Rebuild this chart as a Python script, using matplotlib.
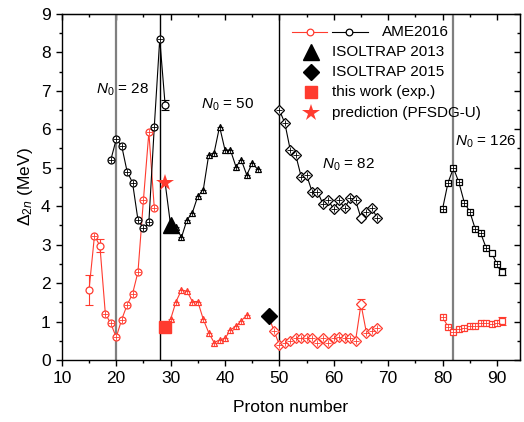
import numpy as np
import matplotlib
matplotlib.use("Agg")
import matplotlib.pyplot as plt

plt.rcParams['font.family'] = ['Liberation Sans', 'DejaVu Sans']
plt.rcParams['mathtext.fontset'] = 'custom'
plt.rcParams['mathtext.rm'] = 'Liberation Sans'
plt.rcParams['mathtext.it'] = 'Liberation Sans:italic'

ROJO = '#ff3b2f'
GRIS = '#7f7f7f'

# AME2016, serie roja (circulos, triangulos, rombos, cuadrados)
z_rc = [15, 16, 17, 18, 19, 20, 21, 22, 23, 24, 25, 26, 27]
d_rc = [1.82, 3.23, 2.97, 1.20, 0.95, 0.59, 1.05, 1.43, 1.72, 2.29, 4.16, 5.92, 3.95]
e_rc = [0.39, 0, 0.17, 0, 0, 0, 0, 0, 0, 0, 0, 0, 0]
ab_rc = [15, 17]

z_rt = [30, 31, 32, 33, 34, 35, 36, 37, 38, 39, 40, 41, 42, 43, 44]
d_rt = [1.06, 1.52, 1.82, 1.79, 1.52, 1.52, 1.06, 0.71, 0.45, 0.52, 0.56, 0.78, 0.88, 1.02, 1.17]

z_rd = [49, 50, 51, 52, 53, 54, 55, 56, 57, 58, 59, 60, 61, 62, 63, 64, 65, 66, 67, 68]
d_rd = [0.76, 0.39, 0.43, 0.50, 0.56, 0.56, 0.56, 0.58, 0.45, 0.58, 0.45, 0.56, 0.61, 0.58,
        0.58, 0.50, 1.45, 0.71, 0.76, 0.82]
e_rd = [0]*16 + [0.13, 0, 0, 0]
ab_rd = [65]

z_rs = [80, 81, 82, 83, 84, 85, 86, 87, 88, 89, 90, 91]
d_rs = [1.11, 0.87, 0.74, 0.80, 0.82, 0.89, 0.89, 0.97, 0.97, 0.94, 0.97, 1.01]
e_rs = [0]*11 + [0.10]
ab_rs = [91]

# AME2016, serie negra
z_nc = [19, 20, 21, 22, 23, 24, 25, 26, 27, 28, 29]
d_nc = [5.20, 5.74, 5.57, 4.90, 4.61, 3.64, 3.42, 3.58, 6.07, 8.35, 6.62]
e_nc = [0]*10 + [0.13]
ab_nc = [29]

z_nt = [30, 31, 32, 33, 34, 35, 36, 37, 38, 39, 40, 41, 42, 43, 44, 45, 46]
d_nt = [3.50, 3.45, 3.19, 3.64, 3.83, 4.26, 4.42, 5.33, 5.39, 6.07, 5.46, 5.46, 5.03, 5.20,
        4.81, 5.12, 4.96]

z_nd = [50, 51, 52, 53, 54, 55, 56, 57, 58, 59, 60, 61, 62, 63, 64, 65, 66, 67, 68]
d_nd = [6.50, 6.16, 5.46, 5.33, 4.77, 4.81, 4.38, 4.38, 4.06, 4.15, 3.92, 4.15, 3.95, 4.20,
        4.15, 3.69, 3.84, 3.95, 3.69]
ab_nd = [65]

z_ns = [80, 81, 82, 83, 84, 85, 86, 87, 88, 89, 90, 91]
d_ns = [3.93, 4.61, 4.99, 4.62, 4.09, 3.86, 3.41, 3.30, 2.92, 2.79, 2.50, 2.30]
e_ns = [0]*11 + [0.10]
ab_ns = [89, 91]

# ISOLTRAP y este trabajo
z_isol13, d_isol13 = [30], [3.50]
z_isol15, d_isol15 = [48], [1.14]
z_exp, d_exp = [29], [0.85]
z_pred, d_pred = [29], [4.60]

capas = [20, 28, 50, 82]
etiquetas_capa = ['28', '50', '82', '126']
textos_leyenda = ['AME2016', 'ISOLTRAP 2013', 'ISOLTRAP 2015', 'this work (exp.)',
                  'prediction (PFSDG-U)']

fig = plt.figure(figsize=(5.24, 4.22), dpi=100)
ax = fig.add_axes([0.118, 0.147, 0.874, 0.820])

for x, c, lw in zip(capas, [GRIS, 'black', 'black', GRIS], [1.6, 1.0, 1.0, 1.6]):
    ax.axvline(x, color=c, lw=lw, zorder=1)


def serie(z, d, color, marker, abiertos=(), err=None, ms=5.0):
    z = np.array(z)
    d = np.array(d)
    ax.plot(z, d, '-', color=color, lw=0.8, zorder=2)
    if err is not None:
        err = np.array(err, dtype=float)
        m = err > 0
        ax.errorbar(z[m], d[m], yerr=err[m], fmt='none', ecolor=color, elinewidth=0.8,
                    capsize=3, capthick=0.8, zorder=2)
    ax.plot(z, d, linestyle='none', marker=marker, ms=ms, mfc='white', mec=color,
            mew=0.9, zorder=3)
    medidos = np.array([zz not in abiertos for zz in z])
    ax.plot(z[medidos], d[medidos], linestyle='none', marker='+', ms=ms * 0.9,
            mec=color, mew=0.6, zorder=4)


serie(z_rc, d_rc, ROJO, 'o', ab_rc, e_rc)
serie(z_rt, d_rt, ROJO, '^')
serie(z_rd, d_rd, ROJO, 'D', ab_rd, e_rd, ms=4.6)
serie(z_rs, d_rs, ROJO, 's', ab_rs, e_rs)
serie(z_nc, d_nc, 'black', 'o', ab_nc, e_nc)
serie(z_nt, d_nt, 'black', '^')
serie(z_nd, d_nd, 'black', 'D', ab_nd, ms=4.6)
serie(z_ns, d_ns, 'black', 's', ab_ns, e_ns)

# uniones entre series
ax.plot([z_pred[0], z_nt[0]], [d_pred[0], d_nt[0]], '-', color='black', lw=0.8, zorder=2)
ax.plot([z_exp[0], z_rt[0]], [d_exp[0], d_rt[0]], '-', color=ROJO, lw=0.8, zorder=2)
ax.plot([z_isol15[0], z_rd[0]], [d_isol15[0], d_rd[0]], '-', color=ROJO, lw=0.8, zorder=2)

ax.plot(z_isol13, d_isol13, linestyle='none', marker='^', ms=11, color='black', zorder=5)
ax.plot(z_isol15, d_isol15, linestyle='none', marker='D', ms=8.5, color='black', zorder=5)
ax.plot(z_exp, d_exp, linestyle='none', marker='s', ms=8.5, color=ROJO, zorder=5)
ax.plot(z_pred, d_pred, linestyle='none', marker='*', ms=13, color=ROJO, mew=0, zorder=5)

# etiquetas de las capas
for (x, y), t in zip([(16.2, 7.02), (35.6, 6.63), (57.8, 5.07), (82.3, 5.68)], etiquetas_capa):
    ax.text(x, y, r'$N_{\mathit{0}}$ = ' + t, fontsize=11, va='center', ha='left')

ax.set_xlim(10, 94.2)
ax.set_ylim(0, 9)
ax.set_xticks(np.arange(10, 95, 10))
ax.set_xticks(np.arange(15, 95, 10), minor=True)
ax.set_yticks(np.arange(0, 10, 1))
ax.set_yticks(np.arange(0.5, 9, 1), minor=True)
ax.tick_params(axis='both', which='major', labelsize=12.5, length=4.5, width=1.0)
ax.tick_params(axis='both', which='minor', length=2.5, width=1.0)
ax.tick_params(axis='x', which='both', direction='out', top=False)
ax.tick_params(axis='y', which='both', direction='out', right=False)
sec_x = ax.secondary_xaxis('top')
sec_x.set_xticks(np.arange(10, 95, 10))
sec_x.set_xticks(np.arange(15, 95, 10), minor=True)
sec_x.tick_params(which='both', direction='in', labeltop=False)
sec_x.tick_params(which='major', length=4.5, width=1.0)
sec_x.tick_params(which='minor', length=2.5, width=1.0)
sec_y = ax.secondary_yaxis('right')
sec_y.set_yticks(np.arange(0, 10, 1))
sec_y.set_yticks(np.arange(0.5, 9, 1), minor=True)
sec_y.tick_params(which='both', direction='in', labelright=False)
sec_y.tick_params(which='major', length=4.5, width=1.0)
sec_y.tick_params(which='minor', length=2.5, width=1.0)
for s in ax.spines.values():
    s.set_linewidth(1.0)

ax.set_xlabel('Proton number', fontsize=12.5, labelpad=10)
ax.set_ylabel(r'$\Delta_{2n}$ (MeV)', fontsize=12.5, labelpad=4)

# leyenda dibujada a mano (coordenadas de los ejes)
tr = ax.transAxes
filas = [0.947, 0.891, 0.833, 0.774, 0.714]
ax.plot([0.502, 0.580], [filas[0]]*2, '-', color=ROJO, lw=0.8, transform=tr, clip_on=False)
ax.plot([0.541], [filas[0]], 'o', ms=4.8, mfc='white', mec=ROJO, mew=0.9, transform=tr)
ax.plot([0.589, 0.668], [filas[0]]*2, '-', color='black', lw=0.8, transform=tr, clip_on=False)
ax.plot([0.627], [filas[0]], 'o', ms=4.8, mfc='white', mec='black', mew=0.9, transform=tr)
ax.plot([0.545], [filas[1]], '^', ms=11, color='black', transform=tr)
ax.plot([0.545], [filas[2]], 'D', ms=8.5, color='black', transform=tr)
ax.plot([0.545], [filas[3]], 's', ms=8.5, color=ROJO, transform=tr)
ax.plot([0.545], [filas[4]], '*', ms=13, color=ROJO, mew=0, transform=tr)
x_textos = [0.698, 0.589, 0.589, 0.589, 0.589]
for xt, y, t in zip(x_textos, filas, textos_leyenda):
    ax.text(xt, y, t, fontsize=11, va='center', ha='left', transform=tr)

fig.savefig('out.png', dpi=100)
